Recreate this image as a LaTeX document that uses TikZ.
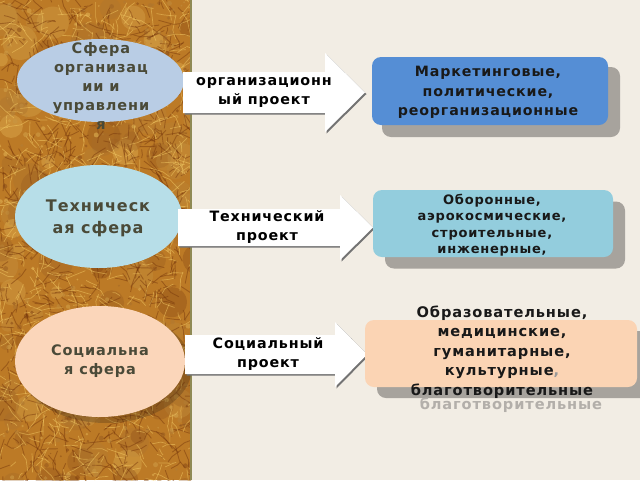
\documentclass[tikz,border=0pt]{standalone}
\usepackage{fontspec}
\setmainfont{DejaVu Sans}
\usetikzlibrary{shapes.geometric}
\definecolor{bgc}{HTML}{F2EDE4}
\definecolor{texbase}{HTML}{BC7A26}
\definecolor{texdark}{HTML}{74340A}
\definecolor{texlight}{HTML}{F4CC66}
\definecolor{panelline}{HTML}{8F8A55}
\definecolor{ellA}{HTML}{B9CDE5}
\definecolor{ellB}{HTML}{B7DEE8}
\definecolor{ellC}{HTML}{FBD6BA}
\definecolor{elltext}{HTML}{4A4A38}
\definecolor{boxA}{HTML}{558ED5}
\definecolor{boxB}{HTML}{93CDDD}
\definecolor{boxC}{HTML}{FBD4B4}
\definecolor{shadowc}{HTML}{A7A39D}
\definecolor{ghost}{HTML}{B3AFAA}
\newcommand\spacedbf{\bfseries\addfontfeature{LetterSpace=6}}
\begin{document}
\begin{tikzpicture}[x=1pt,y=-1pt,
  sphere/.style={ellipse, inner sep=0pt, draw=none},
  spheretext/.style={align=center, text=elltext, inner sep=0pt},
  arrowbody/.style={fill=white, draw=none},
  arrowshadow/.style={fill=black!55, draw=none},
  arrowtext/.style={align=center, text=black, inner sep=0pt},
  areabox/.style={rectangle, rounded corners=9pt, inner sep=0pt, draw=none},
  boxshadow/.style={rectangle, rounded corners=9pt, inner sep=0pt, draw=none, fill=shadowc},
  boxtext/.style={align=center, text=black!90, inner sep=0pt}]
\useasboundingbox (0,0) rectangle (640,480);
\fill[bgc] (0,0) rectangle (640,480);
% textured panel
\begin{scope}
\clip (0,0) rectangle (191,480);
\fill[texbase] (0,0) rectangle (191,480);
\pgfmathsetseed{42}
\foreach \i in {1,...,140}{
  \pgfmathsetmacro\xx{rnd*200}
  \pgfmathsetmacro\yy{rnd*490}
  \pgfmathsetmacro\rr{6+rnd*12}
  \pgfmathtruncatemacro\cc{rnd*100}
  \fill[texlight!\cc!texdark, opacity=0.3] (\xx,\yy) circle (\rr pt);
}
\foreach \i in {1,...,800}{
  \pgfmathsetmacro\xx{rnd*195}
  \pgfmathsetmacro\yy{rnd*485}
  \pgfmathsetmacro\aa{rnd*360}
  \pgfmathsetmacro\ll{4+rnd*12}
  \pgfmathsetmacro\bb{\aa+rnd*60-30}
  \draw[texdark, opacity=0.45, line width=0.9pt] (\xx,\yy) -- ++(\aa:\ll) -- ++(\bb:\ll*0.6);
}
\foreach \i in {1,...,650}{
  \pgfmathsetmacro\xx{rnd*195}
  \pgfmathsetmacro\yy{rnd*485}
  \pgfmathsetmacro\aa{rnd*360}
  \pgfmathsetmacro\ll{4+rnd*12}
  \pgfmathsetmacro\bb{\aa+rnd*60-30}
  \draw[texlight, opacity=0.5, line width=0.7pt] (\xx,\yy) -- ++(\aa:\ll) -- ++(\bb:\ll*0.6);
}
\foreach \i in {1,...,500}{
  \pgfmathsetmacro\xx{rnd*195}
  \pgfmathsetmacro\yy{rnd*485}
  \pgfmathsetmacro\rr{0.6+rnd*2}
  \pgfmathtruncatemacro\cc{rnd*100}
  \fill[texlight!\cc!texdark, opacity=0.45] (\xx,\yy) circle (\rr pt);
}
\end{scope}
\draw[panelline, line width=1.5pt] (191,0) -- (191,480);

% ellipse shadow
\fill[black!70!brown, opacity=0.28] (106,367) ellipse (86pt and 56pt);

% spheres
\node[sphere, fill=ellA, minimum width=167pt, minimum height=83pt] (s1) at (100.5,80.5) {};
\node[sphere, fill=ellB, minimum width=167pt, minimum height=103pt] (s2) at (98.5,216.5) {};
\node[sphere, fill=ellC, minimum width=170pt, minimum height=111pt] (s3) at (100,361.5) {};

\node[spheretext, font=\fontsize{14.5}{19}\selectfont\spacedbf] (t1) at (101,86)
  {Сфера\\организац\\ии и\\управлени\\я};
\node[spheretext, font=\fontsize{16}{22}\selectfont\spacedbf] (t2) at (98,218)
  {Техническ\\ая сфера};
\node[spheretext, font=\fontsize{14.5}{19}\selectfont\spacedbf] (t3) at (100,361.5)
  {Социальна\\я сфера};

% block arrows
\coordinate (a1) at (183,72);
\fill[arrowshadow] ([shift={(1.5,1.5)}]a1) -- ++(142,0) -- ++(0,-19) -- ++(40,39.5) -- ++(-40,39.5) -- ++(0,-19) -- ++(-142,0) -- cycle;
\fill[arrowbody] (a1) -- ++(142,0) -- ++(0,-19) -- ++(40,39.5) -- ++(-40,39.5) -- ++(0,-19) -- ++(-142,0) -- cycle;
\node[arrowtext, font=\fontsize{14.3}{19}\selectfont\spacedbf] (l1) at (264,92) {организационн\\ый проект};

\coordinate (a2) at (178,209);
\fill[arrowshadow] ([shift={(1.5,1.5)}]a2) -- ++(162,0) -- ++(0,-14) -- ++(33,32.5) -- ++(-33,32.5) -- ++(0,-14) -- ++(-162,0) -- cycle;
\fill[arrowbody] (a2) -- ++(162,0) -- ++(0,-14) -- ++(33,32.5) -- ++(-33,32.5) -- ++(0,-14) -- ++(-162,0) -- cycle;
\node[arrowtext, font=\fontsize{14.3}{19}\selectfont\spacedbf] (l2) at (267,227) {Технический\\проект};

\coordinate (a3) at (185,335);
\fill[arrowshadow] ([shift={(1.5,1.5)}]a3) -- ++(150,0) -- ++(0,-13) -- ++(32,32.5) -- ++(-32,32.5) -- ++(0,-13) -- ++(-150,0) -- cycle;
\fill[arrowbody] (a3) -- ++(150,0) -- ++(0,-13) -- ++(32,32.5) -- ++(-32,32.5) -- ++(0,-13) -- ++(-150,0) -- cycle;
\node[arrowtext, font=\fontsize{14.3}{19}\selectfont\spacedbf] (l3) at (268,354) {Социальный\\проект};

% area boxes with shadows
\node[boxshadow, minimum width=238pt, minimum height=70pt] at (501,102) {};
\node[areabox, fill=boxA, minimum width=236pt, minimum height=68pt] (b1) at (490,91) {};
\node[boxtext, font=\fontsize{14.2}{19.5}\selectfont\spacedbf] (bt1) at (488,92.5)
  {Маркетинговые,\\политические,\\реорганизационные};

\node[boxshadow, minimum width=240pt, minimum height=67pt] at (505,235) {};
\node[areabox, fill=boxB, minimum width=240pt, minimum height=67pt] (b2) at (493,223.5) {};
\node[boxtext, font=\fontsize{13}{16.5}\selectfont\spacedbf] (bt2) at (492,225)
  {Оборонные,\\аэрокосмические,\\строительные,\\инженерные,};

\node[boxshadow, minimum width=272pt, minimum height=67pt] at (513,364.5) {};
\node[areabox, fill=boxC, minimum width=272pt, minimum height=67pt] (b3) at (501,353.5) {};
\node[boxtext, text=ghost, font=\fontsize{14.6}{19.5}\selectfont\spacedbf] (gh) at (511,405) {благотворительные};
\node[boxtext, font=\fontsize{14.6}{19.5}\selectfont\spacedbf] (bt3) at (502,352)
  {Образовательные,\\медицинские,\\гуманитарные,\\культурные{\color{white!60!black},}\\благотворительные};
\end{tikzpicture}
\end{document}
